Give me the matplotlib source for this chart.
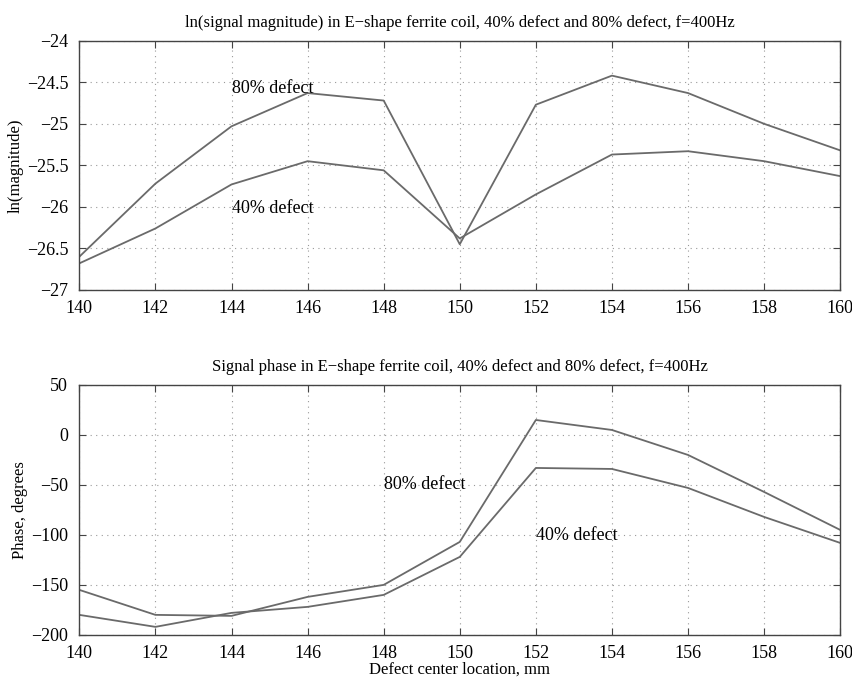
import numpy as np
import matplotlib.pyplot as plt

plt.rcParams['font.family'] = ['Liberation Serif', 'DejaVu Serif']

x = [140, 142, 144, 146, 148, 150, 152, 154, 156, 158, 160]

mag80 = [-26.60, -25.72, -25.03, -24.63, -24.72, -26.45, -24.77, -24.42, -24.63, -25.00, -25.32]
mag40 = [-26.68, -26.26, -25.73, -25.45, -25.56, -26.38, -25.85, -25.37, -25.33, -25.45, -25.63]

ph80 = [-155, -180, -181, -162, -150, -107, 15, 5, -20, -57, -95]
ph40 = [-180, -192, -178, -172, -160, -122, -33, -34, -53, -82, -108]

line_c = '#6a6a6a'

fig = plt.figure(figsize=(8.53, 6.79), dpi=100)
ax1 = fig.add_axes([0.093, 0.573, 0.892, 0.367])
ax2 = fig.add_axes([0.093, 0.065, 0.892, 0.368])

for ax in (ax1, ax2):
    ax.set_xlim(140, 160)
    ax.set_xticks(x)
    ax.grid(True, linestyle=(0, (1, 4)), color='#999999', linewidth=0.8)
    ax.tick_params(direction='in', top=True, right=True, labelsize=13, length=5, color='#444444')
    ax.tick_params(axis='x', pad=7)
    ax.tick_params(axis='y', pad=8)
    for s in ax.spines.values():
        s.set_color('#444444')
        s.set_linewidth(1.0)

ax1.plot(x, mag80, color=line_c, lw=1.3)
ax1.plot(x, mag40, color=line_c, lw=1.3)
ax1.set_ylim(-27, -24)
ax1.set_yticks([-27, -26.5, -26, -25.5, -25, -24.5, -24])
ax1.set_yticklabels(['\u221227', '\u221226.5', '\u221226', '\u221225.5', '\u221225', '\u221224.5', '\u221224'])
ax1.set_ylabel('ln(magnitude)', fontsize=12, labelpad=2)
ax1.set_title('ln(signal magnitude) in E\u2212shape ferrite coil, 40% defect and 80% defect, f=400Hz',
              fontsize=12, pad=10)
ax1.text(144, -24.58, '80% defect', fontsize=13, va='center')
ax1.text(144, -26.02, '40% defect', fontsize=13, va='center')

ax2.plot(x, ph80, color=line_c, lw=1.3)
ax2.plot(x, ph40, color=line_c, lw=1.3)
ax2.set_ylim(-200, 50)
ax2.set_yticks([-200, -150, -100, -50, 0, 50])
ax2.set_yticklabels(['\u2212200', '\u2212150', '\u2212100', '\u221250', '0', '50'])
ax2.set_ylabel('Phase, degrees', fontsize=12, labelpad=2)
ax2.set_xlabel('Defect center location, mm', fontsize=12, labelpad=0)
ax2.set_title('Signal phase in E\u2212shape ferrite coil, 40% defect and 80% defect, f=400Hz',
              fontsize=12, pad=10)
ax2.text(148, -50, '80% defect', fontsize=13, va='center')
ax2.text(152, -101, '40% defect', fontsize=13, va='center')

fig.savefig('out.png', dpi=100)
